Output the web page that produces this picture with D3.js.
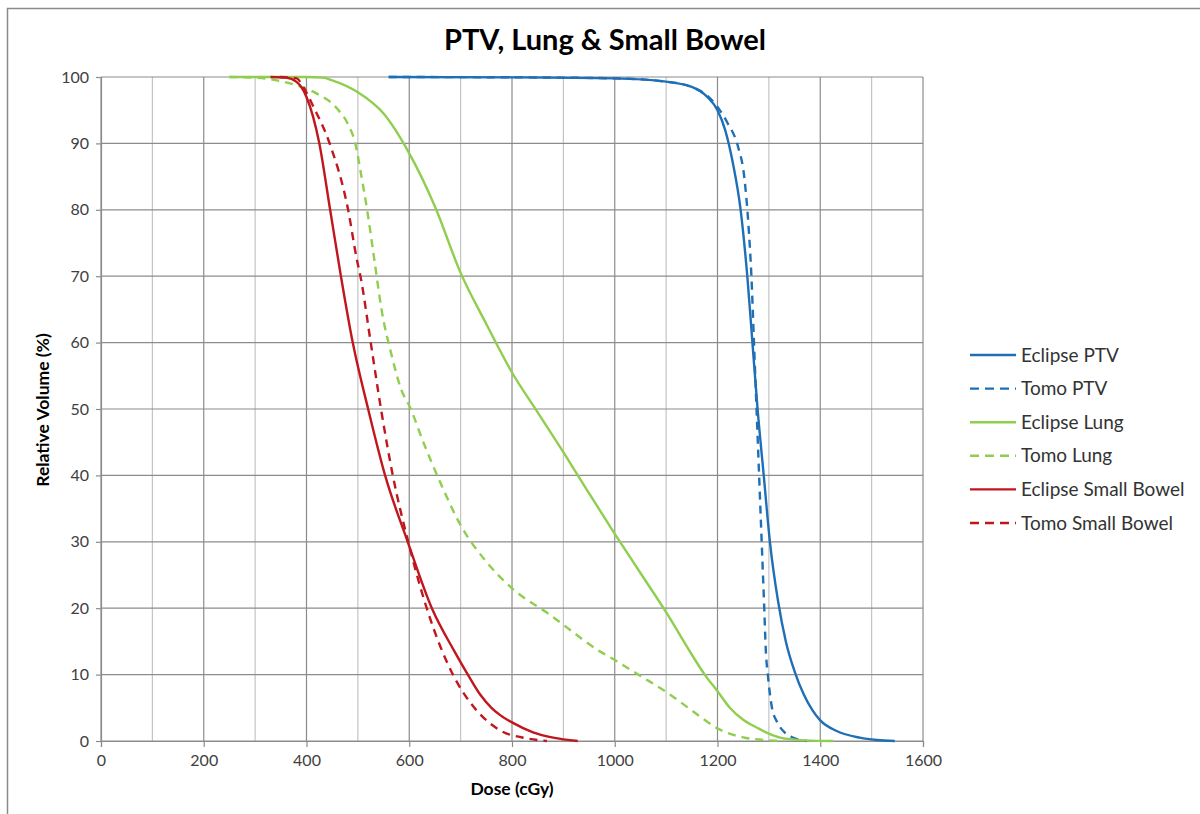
<!DOCTYPE html>
<html>
<head>
<meta charset="utf-8">
<script src="https://cdn.jsdelivr.net/npm/d3@7"></script>
<style>
  html, body { margin: 0; padding: 0; background: #fff; }
  svg { display: block; font-family: Lato, "Noto Sans", sans-serif; }
</style>
</head>
<body>
<svg id="chart" width="1200" height="814"></svg>
<script>
// Dose-volume histogram points: [dose (cGy), relative volume (%)]
const eclipsePTV = [[560,100],[800,99.95],[1000,99.8],[1100,99.3],[1150,98.5],[1180,97],[1200,95],[1215,92],[1230,87],[1245,80],[1258,70],[1268,60],[1278,50],[1290,40],[1302,30],[1318,21],[1333,15],[1350,10.5],[1368,7],[1385,4.6],[1400,3.1],[1432,1.5],[1477,0.5],[1510,0.15],[1545,0]];
const tomoPTV = [[560,100],[800,99.95],[1000,99.8],[1100,99.3],[1150,98.5],[1180,97.2],[1200,95.5],[1220,93],[1240,89.5],[1252,85],[1260,78],[1266,70],[1271,60],[1276,50],[1281,40],[1286,30],[1291,20],[1294,13.7],[1298,10],[1306,5],[1315,3],[1328,1.5],[1347,0.5],[1374,0]];
const eclipseLung = [[250,100],[400,100],[432,99.9],[450,99.5],[500,97.7],[550,94.5],[600,88.5],[650,80.5],[700,70.5],[750,62.8],[800,55.5],[850,49.5],[900,43.5],[950,37.3],[1000,31.2],[1050,25.3],[1100,19.4],[1150,13],[1175,10],[1200,7.5],[1224,5],[1250,3.2],[1277,2],[1300,1.1],[1322,0.5],[1370,0.1],[1425,0]];
const tomoLung = [[250,100],[300,99.9],[342,99.5],[387,98.6],[420,97.5],[459,95.3],[480,93],[495,90],[507,85],[518,80],[532,72.5],[546,65],[566,58],[585,52.8],[600,50.5],[630,44.5],[660,39],[700,32.5],[750,27],[800,23],[874,19],[900,17.5],[971,13.5],[1000,12.2],[1050,9.8],[1100,7.4],[1150,4.6],[1180,2.9],[1200,1.9],[1250,0.55],[1300,0.1],[1330,0]];
const eclipseBowel = [[330,100],[360,99.9],[380,99.3],[400,97],[425,90],[446,80],[467,70],[490,60],[520,50],[553,40],[597,30],[644,20],[688,13.5],[714,10],[738,7],[760,5],[777,3.9],[800,2.8],[841,1.3],[880,0.5],[928,0]];
const tomoBowel = [[348,100],[381,99.8],[393,98.6],[413,95.6],[445,90],[481,80],[498,72.5],[505,70],[525,60],[545,50],[568,40],[598,30],[634,20],[685,10],[728,4.9],[777,1.6],[829,0.4],[868,0]];

const seriesNames = ["Eclipse PTV", "Tomo PTV", "Eclipse Lung", "Tomo Lung", "Eclipse Small Bowel", "Tomo Small Bowel"];
const seriesData = [eclipsePTV, tomoPTV, eclipseLung, tomoLung, eclipseBowel, tomoBowel];
const seriesColors = ["#1f6fb6", "#1f6fb6", "#8fce4e", "#8fce4e", "#c0161d", "#c0161d"];
const seriesDashed = [false, true, false, true, false, true];

const xTicks = d3.range(0, 1601, 200);
const xGrid = d3.range(0, 1601, 100);
const yTicks = d3.range(0, 101, 10);

const svg = d3.select("#chart");

// outer chart frame (top and left edges visible)
svg.append("path")
  .attr("d", "M7.5,814 V8.5 H1200")
  .attr("fill", "none")
  .attr("stroke", "#8a8a8a")
  .attr("stroke-width", 1.5);

const x = d3.scaleLinear().domain([0, 1600]).range([101, 923]);
const y = d3.scaleLinear().domain([0, 100]).range([741, 77]);

// gridlines
const grid = svg.append("g");
grid.selectAll("line.v").data(xGrid).join("line")
  .attr("x1", d => x(d)).attr("x2", d => x(d))
  .attr("y1", y(0)).attr("y2", y(100))
  .attr("stroke", d => d % 200 === 0 ? "#8c8c8c" : "#c4c4c4")
  .attr("stroke-width", 1.2);
grid.selectAll("line.h").data(yTicks).join("line")
  .attr("x1", x(0)).attr("x2", x(1600))
  .attr("y1", d => y(d)).attr("y2", d => y(d))
  .attr("stroke", "#8c8c8c")
  .attr("stroke-width", 1.2);

// axes
const yAxis = svg.append("g")
  .attr("transform", `translate(${x(0)},0)`)
  .call(d3.axisLeft(y).tickValues(yTicks).tickSize(5).tickPadding(7));
const xAxis = svg.append("g")
  .attr("transform", `translate(0,${y(0)})`)
  .call(d3.axisBottom(x).tickValues(xTicks).tickFormat(d3.format("d")).tickSize(6).tickPadding(8));
[yAxis, xAxis].forEach(g => {
  g.selectAll("path.domain").attr("stroke", "#8c8c8c").attr("stroke-width", 1.2);
  g.selectAll(".tick line").attr("stroke", "#8c8c8c").attr("stroke-width", 1.2);
  g.selectAll(".tick text").attr("fill", "#404040").style("font-size", "16px").style("font-family", "Lato, sans-serif");
});

// curves
const line = d3.line()
  .x(d => x(d[0]))
  .y(d => y(d[1]))
  .curve(d3.curveMonotoneX);

svg.append("g").selectAll("path")
  .data(seriesData)
  .join("path")
  .attr("d", line)
  .attr("fill", "none")
  .attr("stroke", (d, i) => seriesColors[i])
  .attr("stroke-width", 2.4)
  .attr("stroke-dasharray", (d, i) => seriesDashed[i] ? "8,6" : null);

// title and axis titles
svg.append("text")
  .attr("x", 605).attr("y", 50)
  .attr("text-anchor", "middle")
  .style("font-size", "29px").style("font-weight", "bold")
  .attr("fill", "#000")
  .text("PTV, Lung & Small Bowel");

svg.append("text")
  .attr("x", 512).attr("y", 795)
  .attr("text-anchor", "middle")
  .style("font-size", "17.5px").style("font-weight", "bold")
  .attr("fill", "#000")
  .text("Dose (cGy)");

svg.append("text")
  .attr("transform", "translate(49,410) rotate(-90)")
  .attr("text-anchor", "middle")
  .style("font-size", "17.5px").style("font-weight", "bold")
  .attr("fill", "#000")
  .text("Relative Volume (%)");

// legend
const legend = svg.append("g").attr("transform", "translate(970,355)");
const rows = legend.selectAll("g").data(seriesNames).join("g")
  .attr("transform", (d, i) => `translate(0,${i * 33.6})`);
rows.append("line")
  .attr("x1", 0).attr("x2", 46).attr("y1", 0).attr("y2", 0)
  .attr("stroke", (d, i) => seriesColors[i])
  .attr("stroke-width", 2.4)
  .attr("stroke-dasharray", (d, i) => seriesDashed[i] ? "9,6" : null);
rows.append("text")
  .attr("x", 51).attr("y", 0).attr("dy", "0.35em")
  .style("font-size", "19px")
  .attr("fill", "#333")
  .text(d => d);
</script>
</body>
</html>
